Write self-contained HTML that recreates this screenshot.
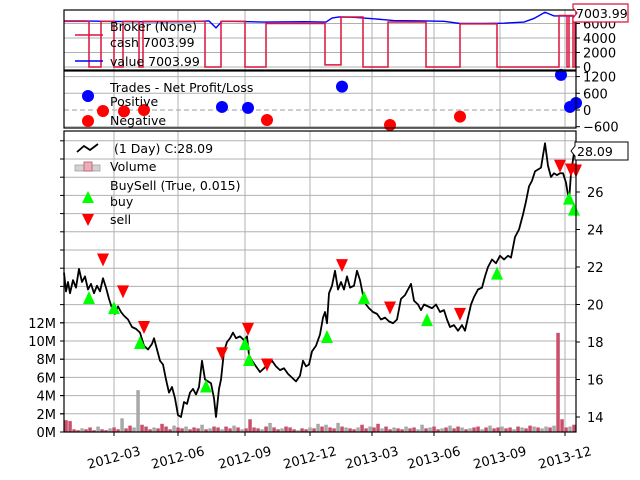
<!DOCTYPE html>
<html><head><meta charset="utf-8"><style>
html,body{margin:0;padding:0;background:#fff;}
svg{display:block;font-family:"DejaVu Sans","Liberation Sans",sans-serif;}
</style></head><body>
<svg id="chart" width="640" height="480" viewBox="0 0 640 480"></svg>
<script>
// ---- data ----
const priceBars = [0,2,4,6,9,12,15,18,21,24,27,30,33,36,39,42,45,48,51,54,57,60,64,68,72,76,80,84,88,90,93,96,99,102,105,108,111,114,117,120,123,126,129,132,135,138,141,144,147,150,152,155,157,160,163,166,169,172,176,180,183,185,188,192,196,200,204,208,212,216,220,224,228,232,236,239,242,245,248,252,256,259,261,263,265,268,271,274,277,280,283,286,290,293,296,299,302,305,309,313,317,321,325,329,333,337,341,344,347,350,354,357,360,364,368,372,376,380,383,386,390,394,398,401,404,407,410,414,418,421,424,428,432,436,440,444,447,451,455,459,462,465,468,471,474,477,481,484,487,490,493,496,499,502,505,507,510];
const closes = [21.7,20.7,21.2,20.6,21.3,20.9,21.9,21.2,21.5,20.8,21.1,20.6,21.0,20.7,21.4,20.9,20.3,19.8,19.5,19.9,19.6,19.4,19.2,18.8,18.7,18.5,17.8,17.6,17.9,18.2,17.6,17.0,16.8,16.0,15.3,15.6,15.0,14.1,14.0,14.8,14.7,15.3,15.5,15.2,15.6,17.0,16.0,15.9,15.8,15.0,14.0,15.5,16.0,17.5,18.0,18.2,18.5,18.2,18.3,18.1,18.3,17.3,17.0,16.7,16.4,16.6,16.8,17.0,16.7,16.5,16.6,16.3,16.1,15.9,16.2,17.0,16.7,16.8,17.5,17.8,18.4,19.3,19.6,19.0,20.6,21.0,21.8,20.8,21.2,20.8,21.5,20.9,21.0,21.8,21.3,20.5,20.0,19.8,19.6,19.5,19.2,19.3,19.1,19.0,19.2,20.3,20.5,20.8,21.1,20.2,20.0,19.7,20.0,19.9,19.8,20.0,19.6,19.7,19.2,18.8,18.9,18.6,18.9,18.6,19.3,20.0,20.4,20.8,20.9,21.5,22.0,22.4,22.2,22.6,22.4,22.6,22.5,23.6,24.0,24.8,25.5,26.3,26.6,27.1,27.2,27.3,28.6,27.4,26.8,27.0,26.9,27.0,27.0,26.5,25.5,27.0,28.09];
const buyBars = [25,50,76,142,181,185,263,300,363,433,505,510];
const buyPrices = [20.35,19.81,17.95,15.63,17.89,17.04,18.27,20.35,19.17,21.65,25.65,25.06];
const sellBars = [39,59,80,158,184,203,278,326,396,496,507,512];
const sellPrices = [22.4,20.7,18.8,17.4,18.7,16.8,22.1,19.84,19.5,27.4,27.2,27.15];
const volumes = [1.3,1.2,0.3,0.2,0.4,0.3,0.5,0.2,0.6,0.3,0.2,0.4,0.5,0.3,1.5,0.4,
  0.7,0.5,4.6,0.8,0.6,0.3,0.5,0.4,0.9,0.6,0.3,0.7,0.5,0.4,0.6,0.3,
  0.5,0.4,0.8,0.3,0.4,0.6,0.5,0.3,0.6,0.4,0.7,0.5,0.3,0.4,1.4,0.5,
  0.4,0.3,0.6,1.0,0.5,0.3,0.4,0.6,0.5,0.3,0.2,0.4,0.3,0.5,0.4,0.9,
  0.6,0.8,0.5,0.4,1.0,0.6,0.5,0.4,0.3,0.5,0.8,0.4,0.6,0.5,0.9,0.4,
  0.6,0.3,0.5,0.4,0.3,0.6,0.4,0.5,0.3,0.8,0.4,0.5,0.6,0.3,0.4,0.5,
  0.7,0.4,0.6,0.5,0.3,0.4,0.5,0.6,0.3,0.5,0.7,0.4,0.5,0.6,0.4,0.5,
  0.3,0.6,0.5,0.4,0.7,0.6,0.5,0.4,0.6,0.5,0.7,10.9,1.4,0.5,0.6,0.8];
const volUp = [1,1,1,1,0,1,1,1,0,1,1,0,1,1,0,1,
  1,0,0,1,1,1,0,1,1,1,1,0,1,1,0,1,
  1,1,0,1,0,1,1,0,1,1,0,1,0,1,1,1,
  1,0,1,0,1,1,0,1,1,1,0,1,1,0,1,0,
  1,0,1,1,0,1,0,1,1,0,1,1,0,1,1,0,
  1,1,0,1,1,0,1,1,0,0,1,0,1,1,0,1,
  0,1,1,0,1,0,1,1,0,1,0,1,1,0,1,1,
  0,1,0,1,1,0,1,0,0,1,0,1,1,1,0,1];
const valueBars = [0,20,40,80,120,145,152,158,170,200,240,262,268,275,290,310,330,360,380,396,420,440,460,470,481,490,500,505,511];
const valueVals = [6350,6350,6300,6250,6250,6350,5400,6300,6300,6200,6250,6200,6750,6900,6850,6650,6400,6350,6300,6000,6000,6050,6200,6700,7550,7050,7050,7050,7004];
const cashBars = [0,25,37,50,59,75,79,141,157,181,202,261,277,299,324,362,396,433,495,503,505,509,511];
const cashVals = [6300,0,6300,0,6300,0,6300,0,6300,0,6000,300,6900,0,6200,0,5950,0,7100,0,7100,0,7004];
const posTradeBars = [158,184,278,497,506,512];
const posTradeVals = [110,75,840,1260,110,250];
const negTradeBars = [39,60,80,203,326,396];
const negTradeVals = [-35,-50,0,-360,-540,-240];
const xTickBars = [50,114,181,246,308,370,436,501];
const xTickLabels = ["2012-03","2012-06","2012-09","2012-12","2013-03","2013-06","2013-09","2013-12"];
const priceTicks = [14,16,18,20,22,24,26,28];
const volTicks = [0,2,4,6,8,10,12];
const brokerTicks = [0,2000,4000,6000];
const tradeTicks = [-600,0,600,1200];

// ---- scales ----
const X0=64, X1=576;
const xs = b => X0 + b;
const py = p => 417 - (p-14)*18.75;
const vy = v => 432 - v*9.1;
const by = v => 67 - v*14.5/2000;
const ty = v => 110 - v*16.7/600;

const svg = document.getElementById('chart');
const NS='http://www.w3.org/2000/svg';
function mk(tag, attrs, parent){ const e=document.createElementNS(NS,tag); for(const k in attrs) e.setAttribute(k,attrs[k]); (parent||svg).appendChild(e); return e; }
function txt(s, attrs, parent){ const e=mk('text',attrs,parent); e.textContent=s; return e; }

const panels=[[10,70],[71,128],[131,432]];
xTickBars.forEach(b=>{ panels.forEach(p=>{ const l=mk('line',{x1:xs(b),x2:xs(b),y1:p[0],y2:p[1],stroke:'#b0b0b0','stroke-width':1});
  
   }); });

// ---- broker panel ----
const gB=mk('g',{});


brokerTicks.forEach(v=>{ mk('line',{x1:X0,x2:X1,y1:by(v),y2:by(v),stroke:'#b0b0b0','stroke-width':1},gB);
  mk('line',{x1:X1,x2:X1+4,y1:by(v),y2:by(v),stroke:'#000'},gB);
  const t=txt(String(v),{x:X1+7,y:by(v)+5,'font-size':13},gB);
  
   });
let d='';
valueBars.forEach((b,i)=>{ d+=(i?'L':'M')+xs(b)+','+by(valueVals[i]); });
const vl=mk('path',{d:d,fill:'none',stroke:'#0000ff','stroke-width':1.4},gB);


d='';
cashBars.forEach((b,i)=>{ const y=by(cashVals[i]); if(i===0) d+='M'+xs(b)+','+y; else d+='L'+xs(b)+','+by(cashVals[i-1])+'L'+xs(b)+','+y; });
d+='L'+X1+','+by(cashVals[cashVals.length-1]);
const cl=mk('path',{d:d,fill:'none',stroke:'#dc143c','stroke-width':1.5},gB);


mk('line',{x1:75,x2:103,y1:35,y2:35,stroke:'#dc143c','stroke-width':1.5},gB);
mk('line',{x1:75,x2:103,y1:61,y2:61,stroke:'#0000ff','stroke-width':1.5},gB);
const lb1=txt('Broker (None)',{x:110,y:31,'font-size':12.5},gB);


const lb2=txt('cash 7003.99',{x:110,y:47,'font-size':12.5},gB);


const lb3=txt('value 7003.99',{x:110,y:66,'font-size':12.5},gB);



// ---- trades panel ----
const gT=mk('g',{});


tradeTicks.forEach(v=>{ if(v!==0) mk('line',{x1:X0,x2:X1,y1:ty(v),y2:ty(v),stroke:'#b0b0b0'},gT);
  mk('line',{x1:X1,x2:X1+4,y1:ty(v),y2:ty(v),stroke:'#000'},gT);
  const t=txt(v<0?'\u2212'+(-v):String(v),{x:X1+7,y:ty(v)+5,'font-size':13},gT);
  
   });
mk('line',{x1:X0,x2:X1,y1:ty(0),y2:ty(0),stroke:'#b0b0b0','stroke-dasharray':'5,3','stroke-width':1.3},gT);
posTradeBars.forEach((b,i)=>{ const c=mk('circle',{cx:xs(b),cy:ty(posTradeVals[i]),r:6,fill:'#0000ff'},gT);
  
   });
negTradeBars.forEach((b,i)=>{ const c=mk('circle',{cx:xs(b),cy:ty(negTradeVals[i]),r:6,fill:'#ff0000'},gT);
  
   });
mk('circle',{cx:88,cy:96,r:6,fill:'#0000ff'},gT);
mk('circle',{cx:88,cy:121,r:6,fill:'#ff0000'},gT);
const lt1=txt('Trades - Net Profit/Loss',{x:110,y:92,'font-size':12.5},gT);


const lt2=txt('Positive',{x:110,y:106,'font-size':12.5},gT);


const lt3=txt('Negative',{x:110,y:125,'font-size':12.5},gT);



// ---- price panel ----
const gP=mk('g',{});


for(let v=2; v<=32; v+=2){ const y=vy(v); if(y<132) break; mk('line',{x1:X0,x2:X1,y1:y,y2:y,stroke:'#b0b0b0'},gP); mk('line',{x1:X0-4,x2:X0,y1:y,y2:y,stroke:'#000'},gP); }
volTicks.forEach(v=>{ mk('line',{x1:X0-4,x2:X0,y1:vy(v),y2:vy(v),stroke:'#000'},gP);
  const t=txt(v+'M',{x:X0-8,y:vy(v)+5,'font-size':13,'text-anchor':'end'},gP);
  
   });
priceTicks.forEach(v=>{ mk('line',{x1:X1,x2:X1+4,y1:py(v),y2:py(v),stroke:'#000'},gP);
  const t=txt(String(v),{x:X1+11,y:py(v)+5,'font-size':13},gP);
  
   });
volumes.forEach((v,i)=>{ const b=i*4+0.3; const r=mk('rect',{x:xs(b),y:vy(v),width:3.5,height:432-vy(v),fill:volUp[i]?'#c8506a':'#a8a8a8'},gP);
  
   });
d='';
priceBars.forEach((b,i)=>{ d+=(i?'L':'M')+xs(b)+','+py(closes[i]); });
const pl=mk('path',{d:d,fill:'none',stroke:'#000','stroke-width':1.8,'stroke-linejoin':'round'},gP);


buyBars.forEach((b,i)=>{ const x=xs(b), y=py(buyPrices[i]);
  const m=mk('path',{d:`M${x-6},${y+6}L${x+6},${y+6}L${x},${y-7}Z`,fill:'#00ff00'},gP);
  
   });
sellBars.forEach((b,i)=>{ const x=xs(b), y=py(sellPrices[i]);
  const m=mk('path',{d:`M${x-6},${y-6}L${x+6},${y-6}L${x},${y+7}Z`,fill:'#ff0000'},gP);
  
   });
mk('path',{d:'M77,152L84,146L90,150L98,144',fill:'none',stroke:'#000','stroke-width':1.8},gP);
mk('rect',{x:75,y:165,width:25,height:6,fill:'#d3d3d3',stroke:'#a0a0a0','stroke-width':0.8},gP);
mk('rect',{x:84,y:162,width:8,height:9,fill:'#e8b0bc',stroke:'#c8506a','stroke-width':0.8},gP);
mk('path',{d:'M82,203L94,203L88,191Z',fill:'#00ff00'},gP);
mk('path',{d:'M82,214L94,214L88,226Z',fill:'#ff0000'},gP);
const lp=[['(1 Day) C:28.09',114,153,'close-legend-entry'],['Volume',110,171,'volume-legend-entry'],['BuySell (True, 0.015)',110,190,'buysell-legend-title'],['buy',110,206,'buy-legend-entry'],['sell',110,224,'sell-legend-entry']];
lp.forEach(a=>{ const t=txt(a[0],{x:a[1],y:a[2],'font-size':12.5},gP);
  
   });

xTickBars.forEach((b,i)=>{ mk('line',{x1:xs(b),x2:xs(b),y1:432,y2:436,stroke:'#000'});
  const t=txt(xTickLabels[i],{x:xs(b),y:462,'font-size':13,'text-anchor':'middle',transform:`rotate(-15 ${xs(b)} 458)`});
  
   });

panels.forEach(p=>{ const r=mk('rect',{x:X0,y:p[0],width:X1-X0,height:p[1]-p[0],fill:'none',stroke:'#000','stroke-width':1.2});
  
   });

const tg1=mk('g',{});


mk('path',{d:'M577,13L573,8L573,4L628,4L628,22L573,22L573,18Z',fill:'#fff',stroke:'#dc143c','stroke-width':1.2},tg1);
txt('7003.99',{x:576,y:18,'font-size':12.5},tg1);
const tg2=mk('g',{});


mk('path',{d:'M571,151L575,146L575,142L628,142L628,160L575,160L575,156Z',fill:'#fff',stroke:'#000','stroke-width':1},tg2);
txt('28.09',{x:577,y:156,'font-size':12.5},tg2);
</script>
</body></html>
